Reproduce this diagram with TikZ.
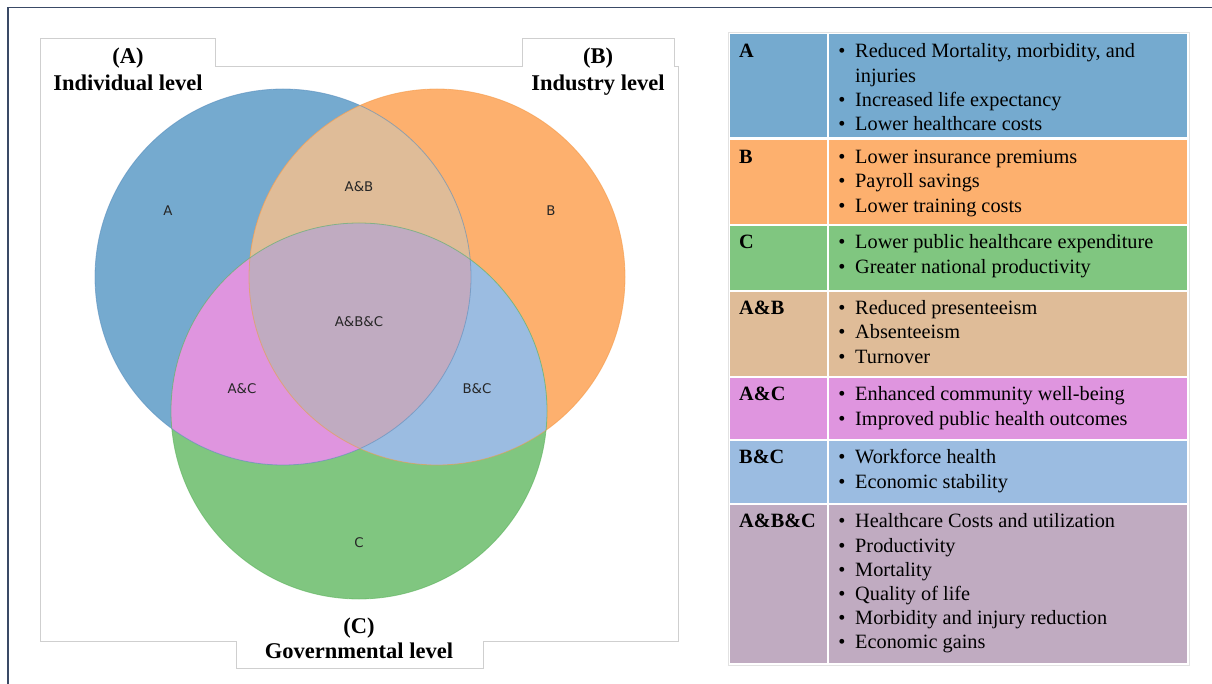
\documentclass[tikz,border=0pt]{standalone}
\usepackage{fontspec}
\setmainfont{Liberation Serif}
\newfontfamily\vennfont{DejaVu Sans}
\definecolor{colA}{HTML}{75AACF}
\definecolor{colB}{HTML}{FDB06E}
\definecolor{colC}{HTML}{80C680}
\definecolor{colAB}{HTML}{DFBC98}
\definecolor{colAC}{HTML}{DF95DF}
\definecolor{colBC}{HTML}{9BBCE1}
\definecolor{colABC}{HTML}{C0ABC1}
\definecolor{edgeAc}{HTML}{5A8FBE}
\definecolor{edgeBc}{HTML}{F59A48}
\definecolor{edgeCc}{HTML}{5DB35D}
\definecolor{framec}{HTML}{3A4A66}
\definecolor{lightframe}{HTML}{CFCFCF}
\definecolor{tabframe}{HTML}{E2E2E2}
\begin{document}
\begin{tikzpicture}[x=1pt,y=-1pt,
  title/.style={font=\fontsize{22.5}{28}\selectfont\bfseries, anchor=base, inner sep=0},
  vlabel/.style={font=\vennfont\fontsize{13.3}{15}\selectfont, inner sep=0, text=black!85},
  tabtxt/.style={font=\fontsize{20.3}{24.3}\selectfont, anchor=base west, inner sep=0},
  tablab/.style={font=\fontsize{20.3}{24.3}\selectfont\bfseries, anchor=base west, inner sep=0},
  bul/.style={font=\fontsize{20.3}{24.3}\selectfont, anchor=base, inner sep=0}]
\useasboundingbox (0,0) rectangle (1212,684);
\fill[white] (0,0) rectangle (1212,684);
% outer frame
\draw[framec, line width=1.5pt] (8,684) -- (8,7.5) -- (1212,7.5);
% venn frame
\draw[lightframe, line width=0.9pt, fill=white] (40,38) -- (215,38) -- (215,66) -- (522,66) -- (522,38) -- (674,38) -- (674,66) -- (678,66) -- (678,641) -- (483,641) -- (483,668) -- (236,668) -- (236,641) -- (40,641) -- cycle;
% circles
\coordinate (cA) at (283,277);
\coordinate (cB) at (437,277);
\coordinate (cC) at (359,411);
\fill[colA] (cA) circle (188pt);
\fill[colB] (cB) circle (188pt);
\fill[colC] (cC) circle (188pt);
\begin{scope}
  \clip (cA) circle (188pt);
  \fill[colAB] (cB) circle (188pt);
  \fill[colAC] (cC) circle (188pt);
\end{scope}
\begin{scope}
  \clip (cB) circle (188pt);
  \fill[colBC] (cC) circle (188pt);
\end{scope}
\begin{scope}
  \clip (cA) circle (188pt);
  \clip (cB) circle (188pt);
  \fill[colABC] (cC) circle (188pt);
\end{scope}
\draw[edgeAc, line width=0.8pt, opacity=0.6] (cA) circle (188pt);
\draw[edgeBc, line width=0.8pt, opacity=0.6] (cB) circle (188pt);
\draw[edgeCc, line width=0.8pt, opacity=0.6] (cC) circle (188pt);
% venn labels
\node[vlabel] (lA) at (168,211) {A};
\node[vlabel] (lB) at (551,211) {B};
\node[vlabel] (lAB) at (359,187) {A\&B};
\node[vlabel] (lABC) at (359,322) {A\&B\&C};
\node[vlabel] (lAC) at (242,389) {A\&C};
\node[vlabel] (lBC) at (477,389) {B\&C};
\node[vlabel] (lC) at (359,543) {C};
% titles
\node[title] (tA1) at (128,64) {(A)};
\node[title] (tA2) at (128,91) {Individual level};
\node[title] (tB1) at (598,64) {(B)};
\node[title] (tB2) at (598,91) {Industry level};
\node[title] (tC1) at (359,633) {(C)};
\node[title] (tC2) at (359,658.5) {Governmental level};
% table
\draw[tabframe, line width=0.8pt, fill=white] (728,32) rectangle (1189,665);
\fill[colA] (730,34) rectangle (827,137);   \fill[colA] (829,34) rectangle (1187,137);
\fill[colB] (730,140) rectangle (827,224);  \fill[colB] (829,140) rectangle (1187,224);
\fill[colC] (730,226) rectangle (827,290);  \fill[colC] (829,226) rectangle (1187,290);
\fill[colAB] (730,292) rectangle (827,376); \fill[colAB] (829,292) rectangle (1187,376);
\fill[colAC] (730,378) rectangle (827,439); \fill[colAC] (829,378) rectangle (1187,439);
\fill[colBC] (730,441) rectangle (827,503); \fill[colBC] (829,441) rectangle (1187,503);
\fill[colABC] (730,505) rectangle (827,663); \fill[colABC] (829,505) rectangle (1187,663);
% row A
\node[tablab] (hA) at (739,57.7) {A};
\node[bul] (bA1) at (842,57.7) {•};
\node[tabtxt] (iA1) at (855,57.7) {Reduced Mortality, morbidity, and};
\node[tabtxt] (iA1b) at (855,82.2) {injuries};
\node[bul] (bA2) at (842,106.6) {•};
\node[tabtxt] (iA2) at (855,106.6) {Increased life expectancy};
\node[bul] (bA3) at (842,130.6) {•};
\node[tabtxt] (iA3) at (855,130.6) {Lower healthcare costs};
% row B
\node[tablab] (hB) at (739,163.5) {B};
\node[bul] (bB1) at (842,163.5) {•};
\node[tabtxt] (iB1) at (855,163.5) {Lower insurance premiums};
\node[bul] (bB2) at (842,188) {•};
\node[tabtxt] (iB2) at (855,188) {Payroll savings};
\node[bul] (bB3) at (842,212.3) {•};
\node[tabtxt] (iB3) at (855,212.3) {Lower training costs};
% row C
\node[tablab] (hC) at (739,249) {C};
\node[bul] (bC1) at (842,249) {•};
\node[tabtxt] (iC1) at (855,249) {Lower public healthcare expenditure};
\node[bul] (bC2) at (842,273.5) {•};
\node[tabtxt] (iC2) at (855,273.5) {Greater national productivity};
% row A&B
\node[tablab] (hAB) at (739,314.3) {A\&B};
\node[bul] (bAB1) at (842,314.3) {•};
\node[tabtxt] (iAB1) at (855,314.3) {Reduced presenteeism};
\node[bul] (bAB2) at (842,338.8) {•};
\node[tabtxt] (iAB2) at (855,338.8) {Absenteeism};
\node[bul] (bAB3) at (842,363) {•};
\node[tabtxt] (iAB3) at (855,363) {Turnover};
% row A&C
\node[tablab] (hAC) at (739,400) {A\&C};
\node[bul] (bAC1) at (842,400) {•};
\node[tabtxt] (iAC1) at (855,400) {Enhanced community well-being};
\node[bul] (bAC2) at (842,425) {•};
\node[tabtxt] (iAC2) at (855,425) {Improved public health outcomes};
% row B&C
\node[tablab] (hBC) at (739,463.3) {B\&C};
\node[bul] (bBC1) at (842,463.3) {•};
\node[tabtxt] (iBC1) at (855,463.3) {Workforce health};
\node[bul] (bBC2) at (842,488.5) {•};
\node[tabtxt] (iBC2) at (855,488.5) {Economic stability};
% row A&B&C
\node[tablab] (hABC) at (739,527.3) {A\&B\&C};
\node[bul] (bABC1) at (842,527.3) {•};
\node[tabtxt] (iABC1) at (855,527.3) {Healthcare Costs and utilization};
\node[bul] (bABC2) at (842,552) {•};
\node[tabtxt] (iABC2) at (855,552) {Productivity};
\node[bul] (bABC3) at (842,576) {•};
\node[tabtxt] (iABC3) at (855,576) {Mortality};
\node[bul] (bABC4) at (842,600) {•};
\node[tabtxt] (iABC4) at (855,600) {Quality of life};
\node[bul] (bABC5) at (842,624) {•};
\node[tabtxt] (iABC5) at (855,624) {Morbidity and injury reduction};
\node[bul] (bABC6) at (842,648) {•};
\node[tabtxt] (iABC6) at (855,648) {Economic gains};
\end{tikzpicture}
\end{document}
